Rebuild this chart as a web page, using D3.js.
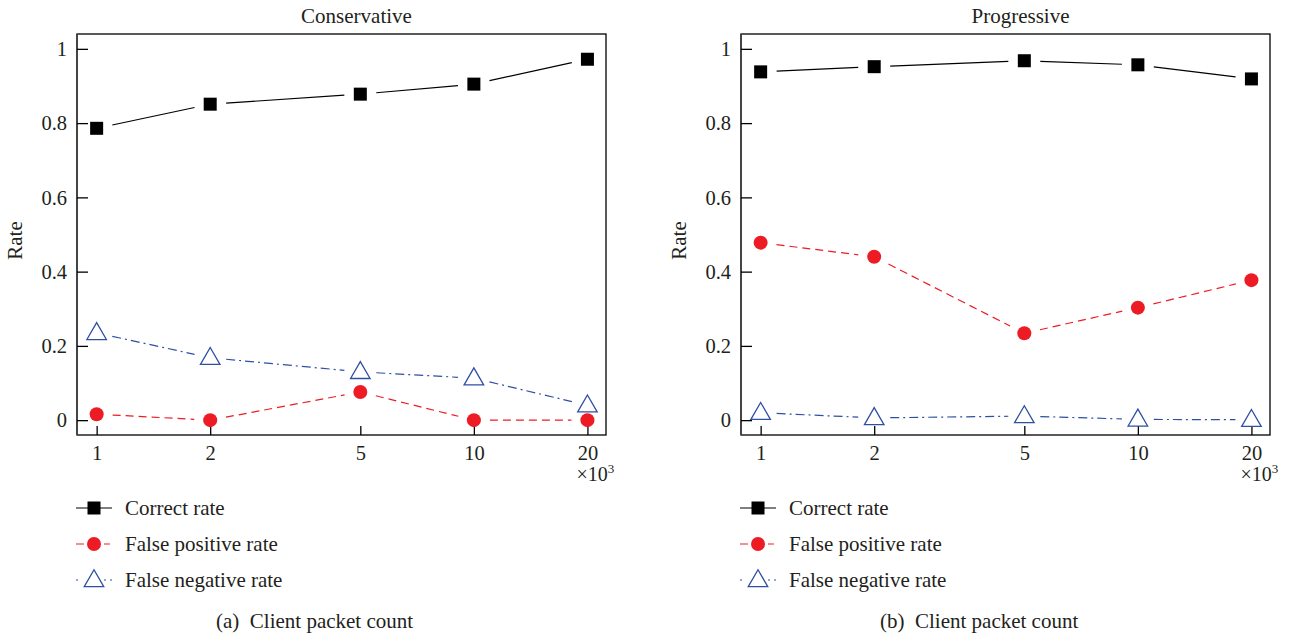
<!DOCTYPE html>
<html>
<head>
<meta charset="utf-8">
<script src="https://cdn.jsdelivr.net/npm/d3@7"></script>
<style>
  body { margin: 0; background: #fff; }
  text { font-family: "Liberation Serif", "DejaVu Serif", serif; fill: #231f20; }
</style>
</head>
<body>
<svg id="chart" width="1293" height="637"></svg>
<script>
// packet counts (x 10^3)
const packets = [1, 2, 5, 10, 20];
const yTicks = [0, 0.2, 0.4, 0.6, 0.8, 1];

const consCorrect = [0.786, 0.851, 0.878, 0.905, 0.972];
const consFalsePos = [0.016, 0.0, 0.076, 0.0, 0.0];
const consFalseNeg = [0.235, 0.168, 0.130, 0.113, 0.040];

const progCorrect = [0.938, 0.952, 0.968, 0.957, 0.919];
const progFalsePos = [0.478, 0.440, 0.234, 0.303, 0.377];
const progFalseNeg = [0.020, 0.006, 0.011, 0.002, 0.001];

const seriesNames = ['Correct rate', 'False positive rate', 'False negative rate'];

const panels = [
  { title: 'Conservative', caption: '(a)\u2002Client packet count', left: 77,
    data: [consCorrect, consFalsePos, consFalseNeg] },
  { title: 'Progressive', caption: '(b)\u2002Client packet count', left: 741,
    data: [progCorrect, progFalsePos, progFalseNeg] }
];

const styles = [
  { color: '#000000', dash: null, symbol: 'square' },
  { color: '#ed1c24', dash: '8,5', symbol: 'circle' },
  { color: '#2e4fa3', dash: '9,4,2,4', symbol: 'triangle' }
];

const svg = d3.select('#chart');
const plotW = 529, plotTop = 34, plotBottom = 435;
const gap = 16;

function drawMarker(g, kind, x, y, color) {
  if (kind === 'square') {
    g.append('rect').attr('x', x - 6.5).attr('y', y - 6.5)
      .attr('width', 13).attr('height', 13).attr('fill', color);
  } else if (kind === 'circle') {
    g.append('circle').attr('cx', x).attr('cy', y).attr('r', 7).attr('fill', color);
  } else {
    g.append('path')
      .attr('d', d3.symbol().type(d3.symbolTriangle).size(165)())
      .attr('transform', `translate(${x},${y + 1})`)
      .attr('fill', '#fff').attr('stroke', color).attr('stroke-width', 1.3);
  }
}

panels.forEach(p => {
  const g = svg.append('g');
  const x = d3.scaleLog().domain([0.887, 22.4]).range([p.left, p.left + plotW]);
  const y = d3.scaleLinear().domain([-0.04, 1.04]).range([plotBottom, plotTop]);

  // frame
  g.append('rect').attr('x', p.left).attr('y', plotTop)
    .attr('width', plotW).attr('height', plotBottom - plotTop)
    .attr('fill', 'none').attr('stroke', '#000').attr('stroke-width', 1.3);
  g.append('line').attr('x1', p.left).attr('x2', p.left)
    .attr('y1', plotTop).attr('y2', plotBottom)
    .attr('stroke', '#444').attr('stroke-width', 2);

  // y axis
  const yAxis = d3.axisLeft(y).tickValues(yTicks)
    .tickSize(-11).tickPadding(10)
    .tickFormat(d => d === 0 || d === 1 ? d3.format('d')(d) : d3.format('.1f')(d));
  const ya = g.append('g').attr('transform', `translate(${p.left},0)`).call(yAxis);
  ya.select('.domain').remove();
  ya.selectAll('line').attr('stroke', '#000').attr('stroke-width', 1.3);
  ya.selectAll('text').attr('font-size', 20.5).attr('fill', '#231f20')
    .attr('font-family', '"Liberation Serif", serif').attr('dy', '0.33em');

  // x axis
  const xAxis = d3.axisBottom(x).tickValues(packets)
    .tickSize(-9).tickPadding(14).tickFormat(d3.format('d'));
  const xa = g.append('g').attr('transform', `translate(0,${plotBottom})`).call(xAxis);
  xa.select('.domain').remove();
  xa.selectAll('line').attr('stroke', '#000').attr('stroke-width', 1.3);
  xa.selectAll('text').attr('font-size', 20.5).attr('fill', '#231f20')
    .attr('font-family', '"Liberation Serif", serif').attr('dy', '0.55em');

  const mult = g.append('text').attr('x', x(20) - 11).attr('y', 481).attr('font-size', 20);
  mult.append('tspan').text('×10');
  mult.append('tspan').text('3').attr('font-size', 13).attr('dy', -8);

  // titles
  g.append('text').attr('x', p.left + plotW / 2 + 15).attr('y', 23)
    .attr('text-anchor', 'middle').attr('font-size', 21).text(p.title);
  g.append('text').attr('transform', `translate(${p.left - 55},${(plotTop + plotBottom) / 2 + 6}) rotate(-90)`)
    .attr('text-anchor', 'middle').attr('font-size', 21).text('Rate');

  // series
  p.data.forEach((vals, si) => {
    const st = styles[si];
    const pts = packets.map((k, i) => [x(k), y(vals[i])]);
    for (let i = 0; i < pts.length - 1; i++) {
      const [x0, y0] = pts[i], [x1, y1] = pts[i + 1];
      const len = Math.hypot(x1 - x0, y1 - y0);
      const ux = (x1 - x0) / len, uy = (y1 - y0) / len;
      g.append('line')
        .attr('x1', x0 + ux * gap).attr('y1', y0 + uy * gap)
        .attr('x2', x1 - ux * gap).attr('y2', y1 - uy * gap)
        .attr('stroke', st.color).attr('stroke-width', 1.2)
        .attr('stroke-dasharray', st.dash);
    }
    pts.forEach(([px, py]) => drawMarker(g, st.symbol, px, py, st.color));
  });

  // legend
  const lx = p.left - 1;
  seriesNames.forEach((name, si) => {
    const st = styles[si];
    const ly = 508 + si * 36;
    g.append('line').attr('x1', lx).attr('x2', lx + 36).attr('y1', ly).attr('y2', ly)
      .attr('stroke', st.color).attr('stroke-width', 1.2)
      .attr('stroke-dasharray', si === 0 ? null : (si === 1 ? '8,5' : '2,6,22,4'));
    if (si > 0) {
      g.append('rect').attr('x', lx + 8).attr('y', ly - 9).attr('width', 20).attr('height', 18).attr('fill', '#fff');
    }
    drawMarker(g, st.symbol, lx + 18, ly, st.color);
    g.append('text').attr('x', lx + 49).attr('y', ly + 7).attr('font-size', 21).text(name);
  });

  g.append('text').attr('x', p.left + 139).attr('y', 628)
    .attr('font-size', 21).text(p.caption);
});
</script>
</body>
</html>
